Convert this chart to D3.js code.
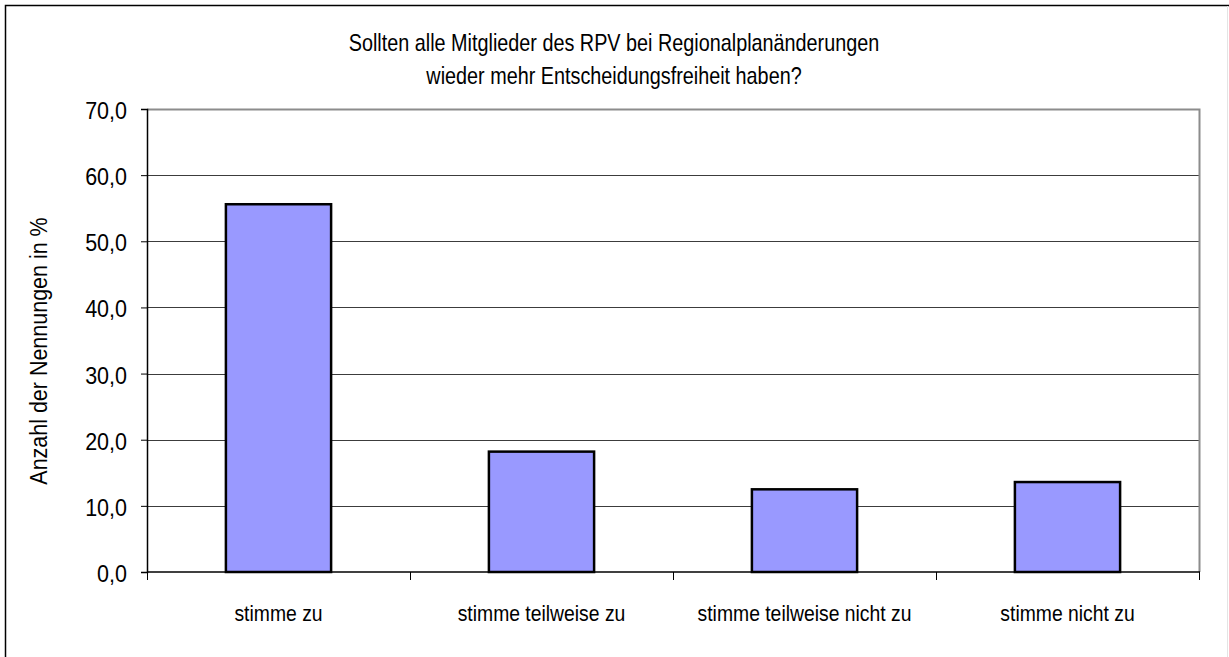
<!DOCTYPE html>
<html>
<head>
<meta charset="utf-8">
<script src="https://cdn.jsdelivr.net/npm/d3@7"></script>
<style>
  body { margin: 0; background: #fff; }
  text { font-family: "Liberation Sans", Arial, sans-serif; fill: #000; }
</style>
</head>
<body>
<div id="chart"></div>
<script>
const categories = ["stimme zu", "stimme teilweise zu", "stimme teilweise nicht zu", "stimme nicht zu"];
const values = [55.6, 18.2, 12.5, 13.6];
const yTicks = [0, 10, 20, 30, 40, 50, 60, 70];
const titleLines = ["Sollten alle Mitglieder des RPV bei Regionalplanänderungen", "wieder mehr Entscheidungsfreiheit haben?"];
const yLabel = "Anzahl der Nennungen in %";

const W = 1229, H = 657;
const plot = {left: 147, top: 109, right: 1199, bottom: 572};

const svg = d3.select("#chart").append("svg")
  .attr("width", W)
  .attr("height", H);

// narrow look: squeeze glyphs horizontally (no narrow font installed)
function narrowText(g, x, y, str, size, sx, anchor) {
  return g.append("text")
    .attr("transform", "translate(" + x + "," + y + ") scale(" + sx + ",1)")
    .attr("text-anchor", anchor || "middle")
    .style("font-size", size + "px")
    .text(str);
}

// Outer chart frame (runs off the picture at right/bottom)
svg.append("rect")
  .attr("x", 5.5).attr("y", 5.5)
  .attr("width", 1240).attr("height", 700)
  .attr("fill", "none").attr("stroke", "#000").attr("stroke-width", 1.5);
svg.append("line")
  .attr("x1", 1227.5).attr("x2", 1227.5).attr("y1", 6).attr("y2", H)
  .attr("stroke", "#e4e4e4");

const x = d3.scaleBand().domain(categories).range([plot.left, plot.right]).paddingInner(0.6).paddingOuter(0.3);
const xOuter = d3.scaleBand().domain(categories).range([plot.left, plot.right]);
const y = d3.scaleLinear().domain([0, 70]).range([plot.bottom, plot.top]);

// Title
const titleG = svg.append("g");
titleLines.forEach((t, i) => narrowText(titleG, 614, 51 + i * 33, t, 24, 0.825));

// Grid
svg.append("g").selectAll("line").data(yTicks.filter(t => t > 0 && t < 70)).enter().append("line")
  .attr("x1", plot.left).attr("x2", plot.right)
  .attr("y1", d => Math.round(y(d)) + 0.5).attr("y2", d => Math.round(y(d)) + 0.5)
  .attr("stroke", "#3c3c3c").attr("stroke-width", 1);

// Plot area border (top/right in gray)
svg.append("path")
  .attr("d", `M${plot.left},${plot.top + 0.5}H${plot.right + 0.5}V${plot.bottom}`)
  .attr("fill", "none").attr("stroke", "#8c8c8c").attr("stroke-width", 2);

// Bars
svg.append("g").selectAll("rect").data(values).enter().append("rect")
  .attr("x", (d, i) => x(categories[i]))
  .attr("y", d => y(d))
  .attr("width", x.bandwidth())
  .attr("height", d => y(0) - y(d))
  .attr("fill", "#9999ff")
  .attr("stroke", "#000").attr("stroke-width", 2.5);

// Y axis
const yAxis = d3.axisLeft(y).tickValues(yTicks).tickSize(6).tickFormat("");
svg.append("g")
  .attr("transform", `translate(${plot.left},0)`)
  .call(yAxis)
  .call(g => g.select(".domain").attr("stroke", "#000").attr("stroke-width", 1.5))
  .call(g => g.selectAll(".tick line").attr("stroke", "#000"));
const yLabG = svg.append("g");
yTicks.forEach(t => narrowText(yLabG, 127, y(t) + 10, d3.format(".1f")(t).replace(".", ","), 23, 0.935, "end"));

// X axis: ticks between categories
const xTickPos = categories.map(c => xOuter(c)).concat([plot.right]);
svg.append("line")
  .attr("x1", plot.left).attr("x2", plot.right + 1)
  .attr("y1", plot.bottom).attr("y2", plot.bottom)
  .attr("stroke", "#000").attr("stroke-width", 1.5);
svg.append("g").selectAll("line").data(xTickPos).enter().append("line")
  .attr("x1", d => Math.round(d) + 0.5).attr("x2", d => Math.round(d) + 0.5)
  .attr("y1", plot.bottom).attr("y2", plot.bottom + 8)
  .attr("stroke", "#000");
const xLabG = svg.append("g");
categories.forEach(c => narrowText(xLabG, xOuter(c) + xOuter.bandwidth() / 2, 621, c, 22.5, 0.86));

// Y label
svg.append("text")
  .attr("transform", "translate(46.5,351) rotate(-90) scale(0.895,1)")
  .attr("text-anchor", "middle")
  .style("font-size", "24px")
  .text(yLabel);
</script>
</body>
</html>
